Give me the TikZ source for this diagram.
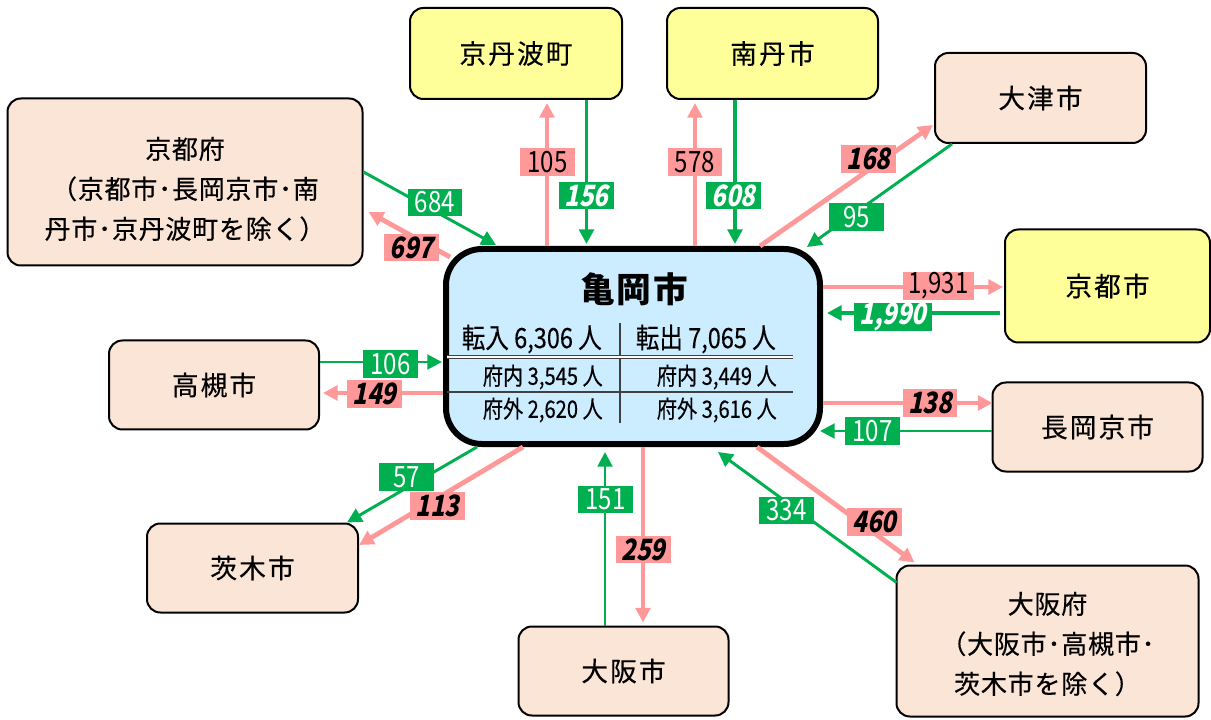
\documentclass[tikz,border=0pt]{standalone}
\usepackage{fontspec}
\setmainfont{Noto Sans CJK JP}
\newfontfamily\boxfont{Noto Sans CJK JP}[LetterSpace=8,FakeBold=0.4]
\newfontfamily\boxmfont{Noto Sans CJK JP}[LetterSpace=3,FakeBold=0.4]
\newfontfamily\titlefont{Noto Sans CJK JP}[LetterSpace=5]
\newfontfamily\rowfont{Noto Sans CJK JP}[FakeStretch=0.84,FakeBold=0.3]
\newfontfamily\numfont{Noto Sans CJK JP}[FakeStretch=0.82]
\newfontfamily\numitfont{Noto Sans CJK JP}[FakeStretch=0.82,FakeSlant=0.2]
\usetikzlibrary{arrows.meta,calc}
\definecolor{grn}{HTML}{00B050}
\definecolor{pnk}{HTML}{FF9999}
\definecolor{ylw}{HTML}{FFFF99}
\definecolor{pch}{HTML}{FBE5D6}
\definecolor{lblue}{HTML}{CCECFF}
\tikzset{
  place/.style={draw, line width=1.5pt, rounded corners=10pt, align=center, inner sep=0pt},
  ybox/.style={place, fill=ylw, font=\boxfont\fontsize{20}{24}\selectfont},
  pbox/.style={place, fill=pch, font=\boxfont\fontsize{20}{24}\selectfont},
  pboxm/.style={place, fill=pch},
  mtext/.style={align=center, inner sep=0pt, font=\boxmfont\fontsize{19.5}{30}\selectfont},
  kbox/.style={draw, line width=4.5pt, rounded corners=27pt, fill=lblue, inner sep=0pt},
  parr/.style={draw=pnk, line width=3pt, -{Triangle[length=11pt,width=11pt]}},
  parrb/.style={parr, line width=3.6pt},
  garr/.style={draw=grn, line width=2.2pt, -{Triangle[length=11pt,width=11pt]}},
  garrb/.style={garr, line width=2.8pt},
  lab/.style={inner xsep=4pt, inner ysep=0pt, minimum height=20.5pt, minimum width=41pt},
  plab/.style={lab, fill=pnk, text=black, font=\numfont\fontsize{22}{24}\selectfont},
  plabi/.style={lab, fill=pnk, text=black, font=\numitfont\bfseries\fontsize{22}{24}\selectfont},
  glab/.style={lab, fill=grn, text=white, font=\numfont\fontsize{22}{24}\selectfont},
  glabi/.style={lab, fill=grn, text=white, font=\numitfont\bfseries\fontsize{22}{24}\selectfont},
  rowA/.style={inner sep=0pt, anchor=east, font=\rowfont\fontsize{21}{22}\selectfont},
  rowB/.style={inner sep=0pt, anchor=east, font=\rowfont\fontsize{18}{20}\selectfont},
  tline/.style={draw=black!75, line width=1pt}
}
\begin{document}
\begin{tikzpicture}[x=0.75pt, y=-0.75pt]
\fill[white] (0,0) rectangle (1211,720);
\useasboundingbox (0,0) rectangle (1211,720);

% nodes
\node[kbox, minimum width=280.5pt, minimum height=146.25pt] (kame) at (633,346.5) {};
\node[ybox, minimum width=159pt, minimum height=68.25pt] (kyotamba) at (516,53.5) {京丹波町};
\node[ybox, minimum width=158.25pt, minimum height=68.25pt] (nantan) at (772.5,53.5) {南丹市};
\node[pbox, minimum width=158.25pt, minimum height=67.5pt] (otsu) at (1040.5,98) {大津市};
\node[ybox, minimum width=153.75pt, minimum height=84.75pt] (kyotoshi) at (1107.5,286) {京都市};
\node[pbox, minimum width=157.5pt, minimum height=66.75pt] (nagaoka) at (1097.5,427) {長岡京市};
\node[pboxm, minimum width=226.5pt, minimum height=113.25pt] (osakafu) at (1047.5,641) {};
\node[mtext] (osakafutxt) at ($(osakafu.center)+(0,3)$) {大阪府\\（大阪市･高槻市･\\茨木市を除く）};
\node[pbox, minimum width=157.5pt, minimum height=66.75pt] (osakashi) at (623.5,671) {大阪市};
\node[pbox, minimum width=158.25pt, minimum height=66.75pt] (ibaraki) at (252.5,568) {茨木市};
\node[pbox, minimum width=157.5pt, minimum height=66.75pt] (takatsuki) at (214,385) {高槻市};
\node[pboxm, minimum width=266.25pt, minimum height=125.25pt] (kyotofu) at (185,182) {};
\node[mtext] (kyotofutxt) at ($(kyotofu.center)+(0,7)$) {京都府\\（京都市･長岡京市･南\\丹市･京丹波町を除く）};

% centre contents
\node[inner sep=0pt, font=\titlefont\bfseries\fontsize{26}{30}\selectfont] (title) at (634,289) {亀岡市};
\node[rowA] (inl) at (602,339) {転入 6,306 人};
\node[rowA] (outl) at (776,339) {転出 7,065 人};
\node[rowB] (inpref) at (603,377) {府内 3,545 人};
\node[rowB] (outpref) at (777,377) {府内 3,449 人};
\node[rowB] (inext) at (603,410) {府外 2,620 人};
\node[rowB] (outext) at (777,410) {府外 3,616 人};
\draw[tline] (620,323) -- (620,423);
\draw[tline, double, line width=0.8pt, double distance=1pt] (447,357) -- (793,357);
\draw[tline] (447,392) -- (793,392);

% connectors
\draw[parr] ($(kame.north)+(-86,0)$) -- ($(kyotamba.south)+(31,3)$);
\draw[garrb] ($(kyotamba.south)+(70.5,0)$) -- ($(kame.north)+(-46.5,-2)$);
\draw[parr] ($(kame.north)+(62,0)$) -- ($(nantan.south)+(-77.5,3)$);
\draw[garrb] ($(nantan.south)+(-37.5,0)$) -- ($(kame.north)+(102,-2)$);
\draw[parrb] ($(kame.north)+(127,0)$) -- ($(otsu.west)+(-1,27)$);
\draw[garr] ($(otsu.south west)+(18,0)$) -- ($(kame.north east)+(-16,1)$);
\draw[parr] ($(kame.east)+(0,-59.5)$) -- ($(kyotoshi.west)+(-1,1)$);
\draw[garrb] ($(kyotoshi.west)+(-4,27)$) -- ($(kame.east)+(4,-33.5)$);
\draw[parrb] ($(kame.east)+(0,56.5)$) -- ($(nagaoka.west)+(1,-24)$);
\draw[garr] ($(nagaoka.west)+(0,4)$) -- ($(kame.east)+(-3,84.5)$);
\draw[garr] ($(takatsuki.east)+(0,-23)$) -- ($(kame.west)+(-1,15.5)$);
\draw[parrb] ($(kame.west)+(0,46.5)$) -- ($(takatsuki.east)+(3,8)$);
\draw[garr] ($(kame.south)+(-156,0)$) -- ($(ibaraki.north east)+(-12,0)$);
\draw[parrb] ($(kame.south)+(-110,0)$) -- ($(ibaraki.east)+(0,-23)$);
\draw[garr] ($(osakashi.north)+(-18.5,0)$) -- ($(kame.south)+(-28,5)$);
\draw[parrb] ($(kame.south)+(10,0)$) -- ($(osakashi.north)+(19.5,-3)$);
\draw[parrb] ($(kame.south)+(124,0)$) -- ($(osakafu.north west)+(19,-2)$);
\draw[garr] ($(osakafu.north west)+(1,18)$) -- ($(kame.south)+(85,5)$);
\draw[garr] ($(kyotofu.east)+(0,-10)$) -- ($(kame.north)+(-137,-1)$);
\draw[parrb] ($(kame.north west)+(7,11)$) -- ($(kyotofu.east)+(5,30)$);

% labels
\node[glab] (l684) at (435,202.5) {684};
\node[plabi] (l697) at (411.5,247.5) {697};
\node[plab] (l105) at (547.5,162) {105};
\node[glabi] (l156) at (586.5,195.5) {156};
\node[plab] (l578) at (695,162) {578};
\node[glabi] (l608) at (733.5,195.5) {608};
\node[plabi] (l168) at (868.5,159) {168};
\node[glab] (l95) at (856.5,217) {95};
\node[plab] (l1931) at (938.5,286) {1,931};
\node[glabi] (l1990) at (893,317) {1,990};
\node[plabi] (l138) at (930,403) {138};
\node[glab] (l107) at (872.5,431) {107};
\node[glab] (l106) at (390.5,364) {106};
\node[plabi] (l149) at (374.5,394) {149};
\node[glab] (l57) at (406.5,477) {57};
\node[plabi] (l113) at (437.5,506) {113};
\node[glab] (l151) at (605.5,499.5) {151};
\node[plabi] (l259) at (643.5,549.5) {259};
\node[glab] (l334) at (786.5,510.5) {334};
\node[plabi] (l460) at (874.5,522) {460};
\end{tikzpicture}
\end{document}
